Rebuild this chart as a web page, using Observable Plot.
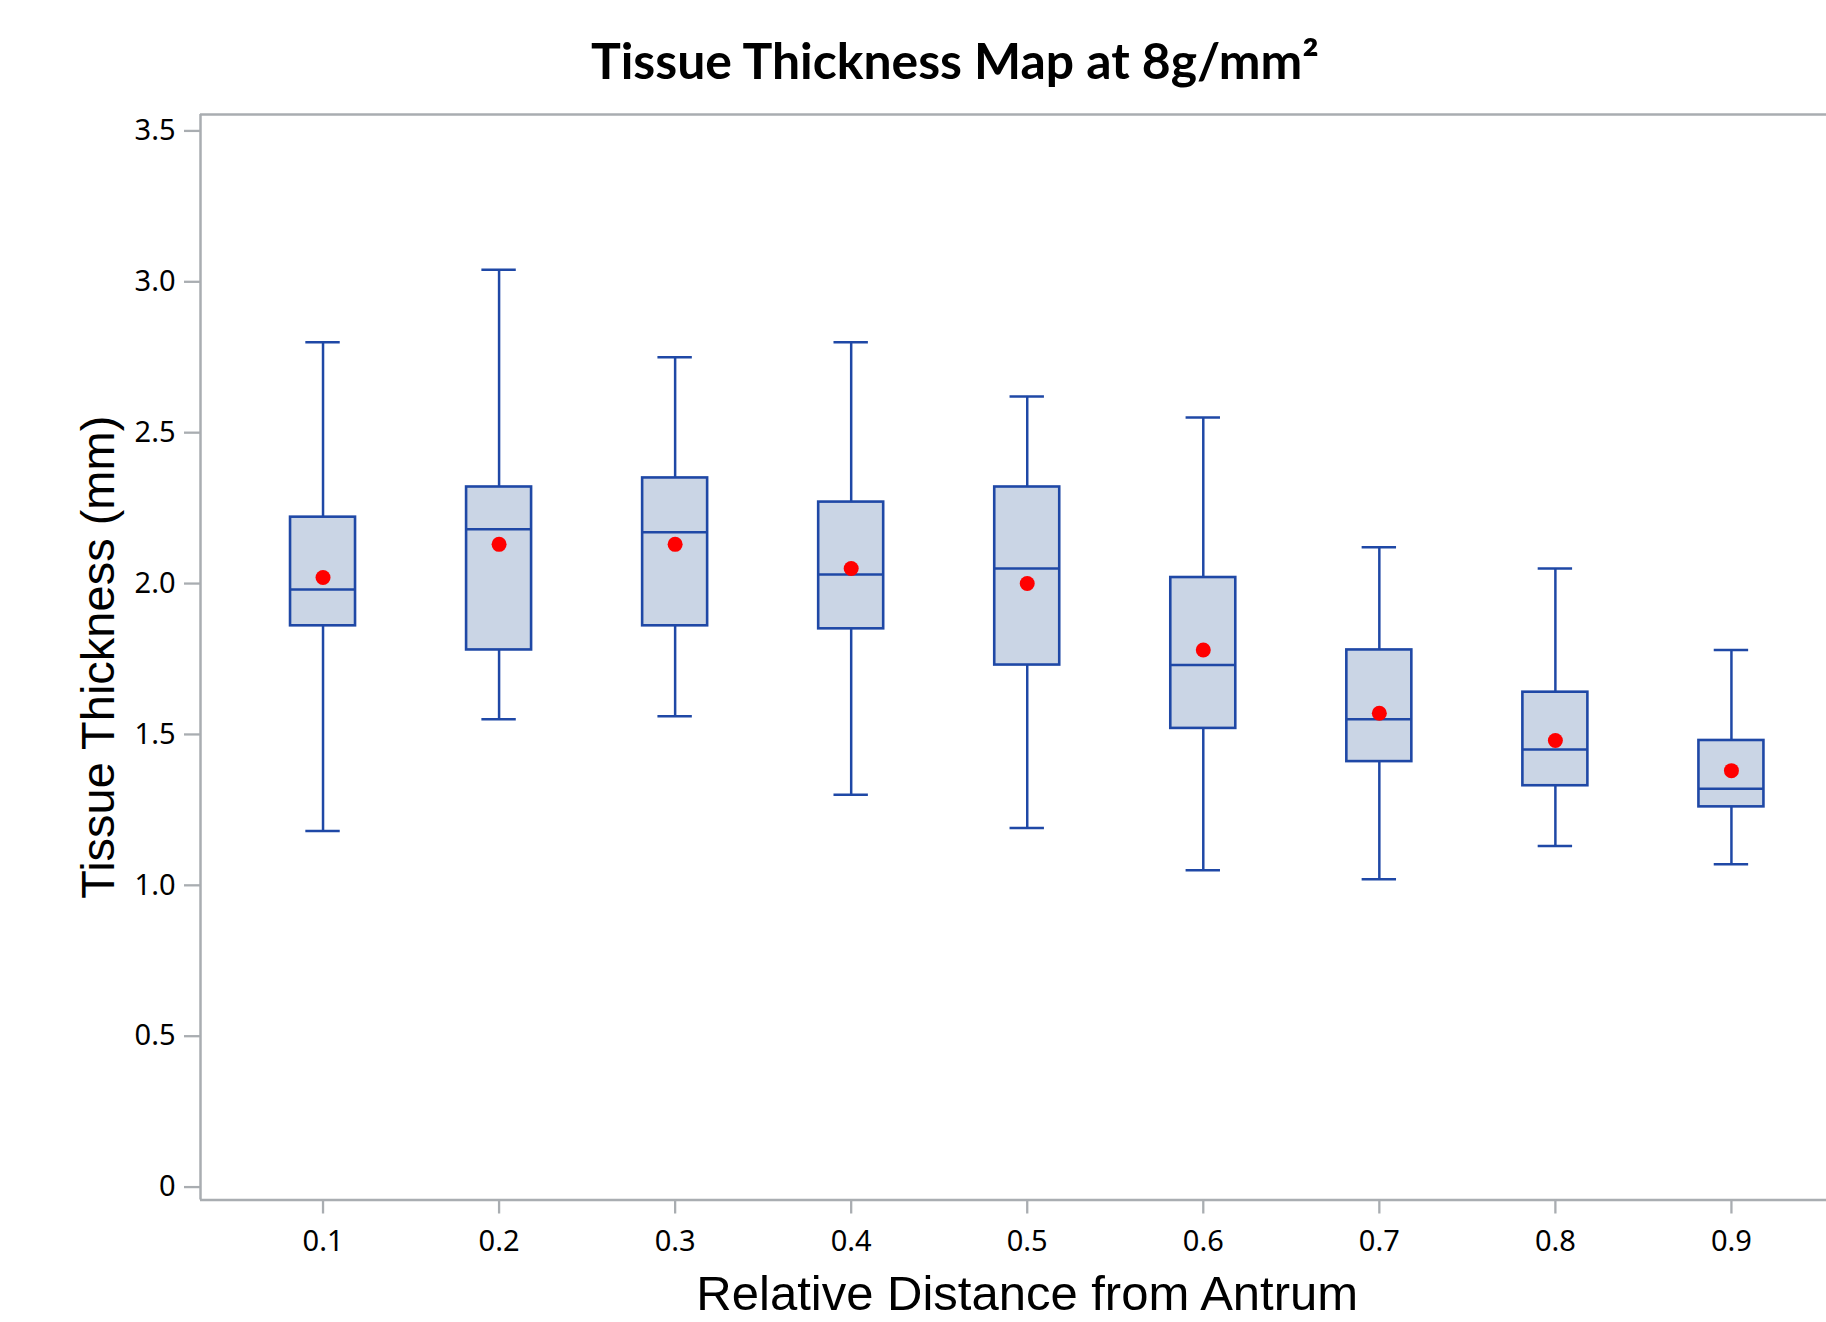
<!DOCTYPE html>
<html>
<head>
<meta charset="utf-8">
<script src="https://cdn.jsdelivr.net/npm/d3@7"></script>
<script src="https://cdn.jsdelivr.net/npm/@observablehq/plot@0.6"></script>
<style>
  html, body { margin: 0; padding: 0; background: white; }
  #page { position: relative; width: 1826px; height: 1322px; overflow: hidden; background: white; }
  #titlebox { position: relative; width: 1826px; height: 100px; }
  #title { position: absolute; left: 955px; top: 29.6px; white-space: nowrap;
           font-family: Lato, "Open Sans", sans-serif; font-weight: 700; font-size: 50px;
           line-height: 60px; color: #000; transform-origin: 0 0; }
  #chart svg { display: block; }
</style>
</head>
<body>
<div id="page">
  <div id="titlebox"><span id="title">Tissue Thickness Map at 8g/mm²</span></div>
  <div id="chart"></div>
</div>
<script>
// ---- data ----
const distances   = [0.1, 0.2, 0.3, 0.4, 0.5, 0.6, 0.7, 0.8, 0.9];
const whiskerLow  = [1.18, 1.55, 1.56, 1.30, 1.19, 1.05, 1.02, 1.13, 1.07];
const q1          = [1.86, 1.78, 1.86, 1.85, 1.73, 1.52, 1.41, 1.33, 1.26];
const median      = [1.98, 2.18, 2.17, 2.03, 2.05, 1.73, 1.55, 1.45, 1.32];
const q3          = [2.22, 2.32, 2.35, 2.27, 2.32, 2.02, 1.78, 1.64, 1.48];
const whiskerHigh = [2.80, 3.04, 2.75, 2.80, 2.62, 2.55, 2.12, 2.05, 1.78];
const means       = [2.02, 2.13, 2.13, 2.05, 2.00, 1.78, 1.57, 1.48, 1.38];
const yTicks      = [0, 0.5, 1.0, 1.5, 2.0, 2.5, 3.0, 3.5];
const xTicks      = distances;
const titleText   = "Tissue Thickness Map at 8g/mm²";
const xLabel      = "Relative Distance from Antrum";
const yLabel      = "Tissue Thickness (mm)";

const rows = distances.map((d, i) => ({
  d, lo: whiskerLow[i], q1: q1[i], med: median[i], q3: q3[i], hi: whiskerHigh[i], mean: means[i]
}));

const xDomain = [0.0304, 0.954];
const yDomain = [-0.0428, 3.5544];
const halfBox = 0.01846;   // half box width in x units
const halfCap = 0.00977;   // half whisker cap width in x units

const blue = "#1f48a6";
const fillBox = "#cad5e5";
const axisGray = "#a9adb1";

const chart = Plot.plot({
  width: 1826,
  height: 1222,
  marginLeft: 200,
  marginRight: 0,
  marginTop: 14,
  marginBottom: 122.5,
  style: { fontFamily: "'Noto Sans', sans-serif", fontSize: "29px", background: "white", color: "black" },
  x: { type: "linear", domain: xDomain },
  y: { type: "linear", domain: yDomain },
  marks: [
    // frame lines (left, top, bottom)
    Plot.ruleX([xDomain[0]], { stroke: axisGray, strokeWidth: 2.5 }),
    Plot.ruleY([yDomain[0], yDomain[1]], { stroke: axisGray, strokeWidth: 2.5 }),
    // axes
    Plot.axisY(yTicks, {
      tickSize: 16, tickPadding: 9, stroke: axisGray, strokeWidth: 2.3,
      tickFormat: d => d === 0 ? "0" : d.toFixed(1), label: null, fontSize: 29
    }),
    Plot.axisX(xTicks, {
      tickSize: 14, tickPadding: 16, stroke: axisGray, strokeWidth: 2.3,
      tickFormat: d => d.toFixed(1), label: null, fontSize: 29
    }),
    // whiskers
    Plot.ruleX(rows, { x: "d", y1: "lo", y2: "q1", stroke: blue, strokeWidth: 2.5 }),
    Plot.ruleX(rows, { x: "d", y1: "q3", y2: "hi", stroke: blue, strokeWidth: 2.5 }),
    Plot.ruleY(rows, { y: "lo", x1: r => r.d - halfCap, x2: r => r.d + halfCap, stroke: blue, strokeWidth: 2.5 }),
    Plot.ruleY(rows, { y: "hi", x1: r => r.d - halfCap, x2: r => r.d + halfCap, stroke: blue, strokeWidth: 2.5 }),
    // boxes
    Plot.rect(rows, { x1: r => r.d - halfBox, x2: r => r.d + halfBox, y1: "q1", y2: "q3",
      fill: fillBox, stroke: blue, strokeWidth: 2.6 }),
    // medians
    Plot.ruleY(rows, { y: "med", x1: r => r.d - halfBox, x2: r => r.d + halfBox, stroke: blue, strokeWidth: 2.5 }),
    // means
    Plot.dot(rows, { x: "d", y: "mean", r: 7.5, fill: "#ff0000", stroke: "none" }),
    // axis titles
    Plot.text([yLabel], { frameAnchor: "left", textAnchor: "middle", dx: -102, rotate: -90, text: d => d,
      fontFamily: "'Liberation Sans', Arial, sans-serif", fontSize: 47, fill: "black" }),
    Plot.text([xLabel], { x: () => 0.5, frameAnchor: "bottom", lineAnchor: "top", dy: 75, text: d => d,
      fontFamily: "'Liberation Sans', Arial, sans-serif", fontSize: 49, fill: "black" })
  ]
});
document.getElementById("chart").appendChild(chart);

// fit title to reference width (~728px), centred at x=955
const t = document.getElementById("title");
t.textContent = titleText;
const w = t.getBoundingClientRect().width;
const k = 728 / w;
t.style.transform = `scaleX(${k}) translateX(-50%)`;
</script>
</body>
</html>
